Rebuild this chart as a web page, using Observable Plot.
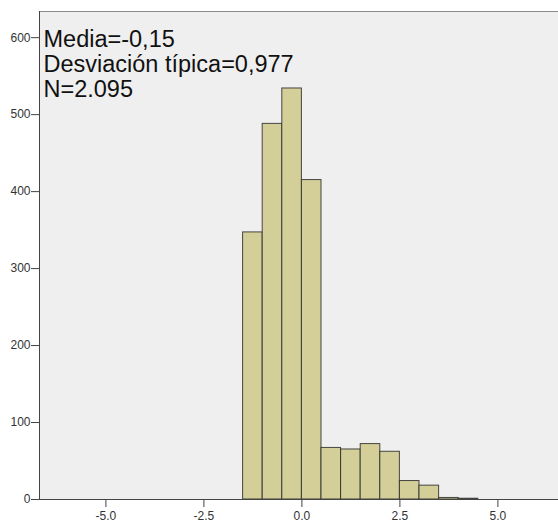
<!DOCTYPE html>
<html>
<head>
<meta charset="utf-8">
<script src="https://cdn.jsdelivr.net/npm/d3@7"></script>
<script src="https://cdn.jsdelivr.net/npm/@observablehq/plot@0.6"></script>
<style>
  html, body { margin: 0; padding: 0; background: #ffffff; }
  #chart svg { display: block; }
</style>
</head>
<body>
<div id="chart"></div>
<script>
// Bin lower edges (width 0.5) and counts
const binStarts = [-1.5, -1.0, -0.5, 0.0, 0.5, 1.0, 1.5, 2.0, 2.5, 3.0, 3.5, 4.0];
const counts    = [347, 488, 534, 415, 67, 65, 72, 62, 24, 18, 2, 1];
const binWidth = 0.5;
const xTicks = [-5, -2.5, 0, 2.5, 5];
const yTicks = [0, 100, 200, 300, 400, 500, 600];
const statLines = ["Media=-0,15", "Desviación típica=0,977", "N=2.095"];

const bins = binStarts.map((s, i) => ({x1: s, x2: s + binWidth, y: counts[i]}));
const xDomain = [-6.694, 6.546];

const chart = Plot.plot({
  width: 558,
  height: 522,
  marginLeft: 39,
  marginTop: 11,
  marginRight: 0,
  marginBottom: 23,
  style: {fontFamily: "'Liberation Sans', Arial, sans-serif", fontSize: "12px", color: "#333", background: "#ffffff"},
  x: {domain: xDomain, label: null},
  y: {domain: [0, 634], label: null},
  marks: [
    Plot.frame({fill: "#efefef", stroke: "#8a8a8a"}),
    Plot.rectY(bins, {x1: "x1", x2: "x2", y1: 0, y2: "y", fill: "#d4cf98", stroke: "#2a2a2a", strokeOpacity: 0.85, strokeWidth: 1}),
    Plot.ruleY([0], {stroke: "#444"}),
    Plot.ruleX([xDomain[0]], {stroke: "#444"}),
    Plot.axisX({ticks: xTicks, tickFormat: d => d.toFixed(1), tickSize: 8, tickPadding: 4, stroke: "#444", fill: "#333", fontSize: 12, label: null}),
    Plot.axisY({ticks: yTicks, tickSize: 8, tickPadding: 1, stroke: "#444", fill: "#333", fontSize: 12, label: null}),
    Plot.text([statLines.join("\n")], {
      frameAnchor: "top-left", textAnchor: "start", lineAnchor: "top",
      dx: 4, dy: 17, fontSize: 23.5, lineHeight: 1.08, fill: "#111",
      fontFamily: "'Liberation Sans', Arial, sans-serif"
    })
  ]
});
document.getElementById("chart").appendChild(chart);
</script>
</body>
</html>
